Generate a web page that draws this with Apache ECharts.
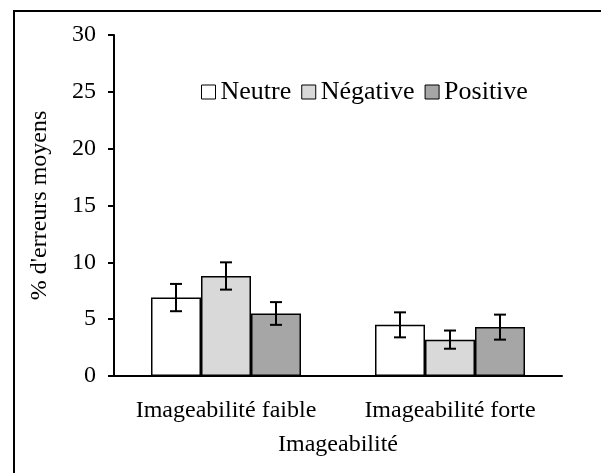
<!DOCTYPE html>
<html>
<head>
<meta charset="utf-8">
<script src="https://cdn.jsdelivr.net/npm/echarts@6/dist/echarts.min.js"></script>
<style>
    html, body { margin: 0; padding: 0; background: #fff; overflow: hidden; }
    #chart { position: absolute; left: 0; top: 0; width: 601px; height: 473px; }
    #frame { position: absolute; left: 13px; top: 10px; width: 620px; height: 500px; border: 2px solid #000; pointer-events: none; }
</style>
</head>
<body>
<div id="chart"></div>
<div id="frame"></div>
<script>
const categories = ['Imageabilité faible', 'Imageabilité forte'];
const seriesNames = ['Neutre', 'Négative', 'Positive'];
const neutreValues = [6.9, 4.5];
const negativeValues = [8.8, 3.2];
const positiveValues = [5.5, 4.3];
const neutreErrors = [1.2, 1.1];
const negativeErrors = [1.2, 0.8];
const positiveErrors = [1.0, 1.1];
const yTicks = [0, 5, 10, 15, 20, 25, 30];

const barWidth = 50;
const fontFamily = '"Liberation Serif", "Times New Roman", serif';
const fontSize = 24;
const colors = ['#ffffff', '#d9d9d9', '#a6a6a6'];
const valueSets = [neutreValues, negativeValues, positiveValues];
const errorSets = [neutreErrors, negativeErrors, positiveErrors];

function errorBarSeries(seriesIndex) {
    const values = valueSets[seriesIndex];
    const errors = errorSets[seriesIndex];
    const offset = (seriesIndex - 1) * barWidth;
    return {
        type: 'custom',
        name: seriesNames[seriesIndex] + ' err',
        z: 10,
        silent: true,
        data: values.map((v, i) => [i, v - errors[i], v + errors[i]]),
        renderItem(params, api) {
            const low = api.coord([api.value(0), api.value(1)]);
            const high = api.coord([api.value(0), api.value(2)]);
            const x = low[0] + offset;
            const cap = 6;
            const style = { stroke: '#000', lineWidth: 2 };
            return {
                type: 'group',
                children: [
                    { type: 'line', shape: { x1: x, y1: low[1], x2: x, y2: high[1] }, style },
                    { type: 'line', shape: { x1: x - cap, y1: low[1], x2: x + cap, y2: low[1] }, style },
                    { type: 'line', shape: { x1: x - cap, y1: high[1], x2: x + cap, y2: high[1] }, style }
                ]
            };
        }
    };
}

const chart = echarts.init(document.querySelector('#chart'));
chart.setOption({
    animation: false,
    textStyle: { fontFamily },
    grid: { left: 114, right: 39, top: 35, bottom: 97 },
    legend: {
        data: seriesNames,
        left: 196,
        top: 74,
        icon: 'rect',
        itemWidth: 14,
        itemHeight: 14,
        itemGap: 10,
        itemStyle: { borderColor: '#000', borderWidth: 1 },
        textStyle: { fontFamily, fontSize: 26, color: '#000' }
    },
    xAxis: {
        type: 'category',
        data: categories,
        name: 'Imageabilité',
        nameLocation: 'middle',
        nameGap: 57,
        nameTextStyle: { fontFamily, fontSize, color: '#000' },
        axisLine: { lineStyle: { color: '#000', width: 2 } },
        axisTick: { inside: true, length: 6, lineStyle: { color: '#000', width: 2 } },
        axisLabel: { fontFamily, fontSize, color: '#000', margin: 23, interval: 0, hideOverlap: false }
    },
    yAxis: {
        type: 'value',
        min: yTicks[0],
        max: yTicks[yTicks.length - 1],
        interval: 5,
        name: "% d'erreurs moyens",
        nameLocation: 'middle',
        nameGap: 62,
        nameTextStyle: { fontFamily, fontSize, color: '#000' },
        splitLine: { show: false },
        axisLine: { show: true, lineStyle: { color: '#000', width: 2 } },
        axisTick: { show: true, length: 6, lineStyle: { color: '#000', width: 2 } },
        axisLabel: { fontFamily, fontSize, color: '#000', margin: 18 }
    },
    series: [
        ...seriesNames.map((name, i) => ({
            type: 'bar',
            name,
            data: valueSets[i],
            barWidth,
            barGap: '0%',
            itemStyle: { color: colors[i], borderColor: '#000', borderWidth: 1.5 }
        })),
        errorBarSeries(0),
        errorBarSeries(1),
        errorBarSeries(2)
    ]
});
</script>
</body>
</html>
